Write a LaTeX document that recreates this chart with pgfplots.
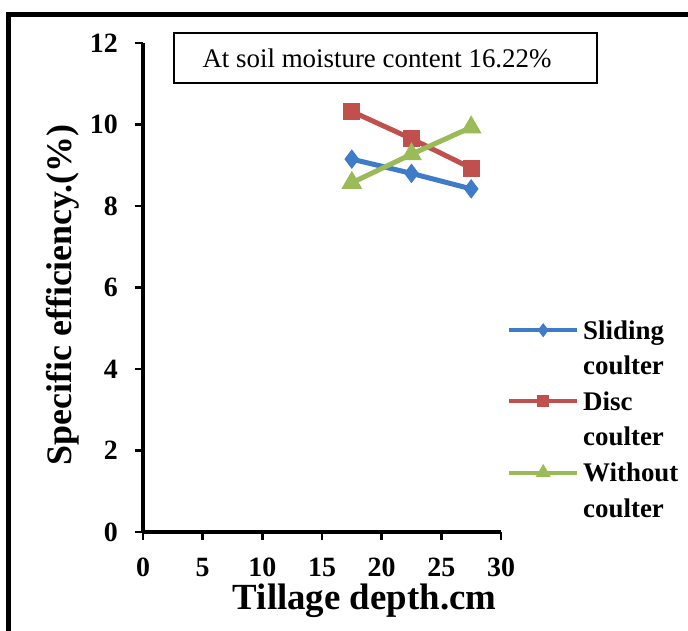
\documentclass[border=0pt]{standalone}
\usepackage{fontspec}
\setmainfont{Liberation Serif}
\usepackage{pgfplots}
\pgfplotsset{compat=1.18}
\definecolor{cblue}{HTML}{3E7CC9}
\definecolor{cred}{HTML}{C0504D}
\definecolor{cgreen}{HTML}{9BBB59}
\begin{document}
\begin{tikzpicture}
\useasboundingbox (0,0) rectangle (688bp,631bp);
\fill[white] (0,0) rectangle (688bp,631bp);
\draw[line width=5bp, black] (8.5bp,-20bp) -- (8.5bp,616bp) -- (720bp,616bp);
\begin{axis}[
  at={(143bp,99bp)}, anchor=south west,
  scale only axis, width=358bp, height=489bp,
  xmin=0, xmax=30, ymin=0, ymax=12,
  xtick={0,5,...,30}, ytick={0,2,...,12},
  axis lines=left,
  axis line style={-, line width=3bp, black},
  tick align=outside, major tick length=8bp,
  tick style={line width=2.5bp, black},
  /pgf/number format/assume math mode=true,
  ticklabel style={font=\bfseries\fontsize{28}{28}\selectfont},
  yticklabel style={inner sep=0pt, xshift=-17bp},
  xticklabel style={inner sep=0pt, anchor=north, yshift=-18bp},
  xlabel={Tillage depth.cm},
  ylabel={Specific efficiency.(\%)},
  xlabel style={font=\bfseries\fontsize{37}{37}\selectfont, at={(axis description cs:0.619,-0.1595)}, anchor=base},
  ylabel style={font=\bfseries\fontsize{36}{36}\selectfont, at={(axis description cs:-0.2235,0.4847)}, anchor=center},
  legend style={draw=none, fill=none, at={(1.0168,0.4356)}, anchor=north west,
    font=\bfseries\fontsize{27}{27}\selectfont, inner sep=0pt, row sep=7.6bp, column sep=4bp,
    nodes={inner sep=0pt, text height=20bp, text depth=8bp}, cells={anchor=base west}},
  legend image code/.code={\draw[mark repeat=2,mark phase=2, line width=4bp, every mark/.append style={scale=0.7}] plot coordinates {(0bp,9bp) (34bp,9bp) (68bp,9bp)};},
  every axis plot/.append style={line width=5bp},
  clip=false,
]
\addplot[cblue, mark=diamond*, mark size=9bp, mark options={line width=1bp}] coordinates {(17.5,9.15) (22.5,8.80) (27.5,8.42)};
\addlegendentry{Sliding}
\addlegendimage{empty legend}
\addlegendentry{coulter}
\addplot[cred, mark=square*, mark size=8bp, mark options={line width=1bp}] coordinates {(17.5,10.32) (22.5,9.65) (27.5,8.93)};
\addlegendentry{Disc}
\addlegendimage{empty legend}
\addlegendentry{coulter}
\addplot[cgreen, mark=triangle*, mark size=11bp, mark options={line width=1bp}] coordinates {(17.5,8.57) (22.5,9.27) (27.5,9.93)};
\addlegendentry{Without}
\addlegendimage{empty legend}
\addlegendentry{coulter}
\end{axis}
\draw[black, line width=1.5bp] (174bp,548bp) rectangle (597bp,598bp);
\node[inner sep=0pt, font=\fontsize{27}{27}\selectfont] at (377bp,573bp) {At soil moisture content 16.22\%};
\end{tikzpicture}
\end{document}
